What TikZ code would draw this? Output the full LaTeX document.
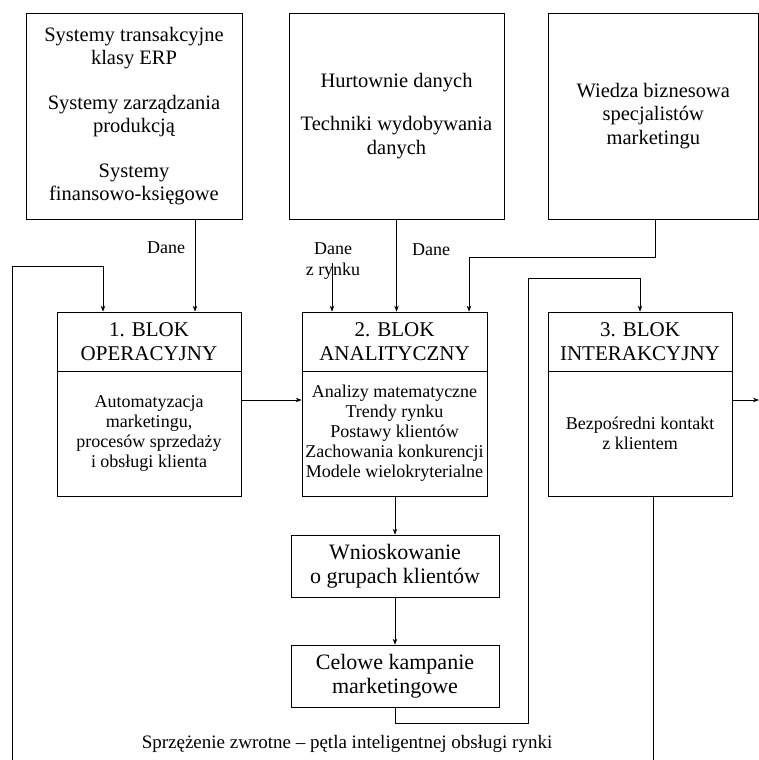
\documentclass[tikz,border=0pt]{standalone}
\usepackage{fontspec}
\setmainfont{Liberation Serif}
\usetikzlibrary{arrows.meta}
\begin{document}
\begin{tikzpicture}[x=1pt,y=-1pt,line width=0.7pt,
  box/.style={draw,inner sep=0pt,align=center},
  arr/.style={-{Stealth[length=6pt,width=4.5pt]}},
  topf/.style={font=\fontsize{20.5}{23.5}\selectfont},
  ttlf/.style={font=\fontsize{21}{23.5}\selectfont},
  bodyf/.style={font=\fontsize{18}{20}\selectfont},
  midf/.style={font=\fontsize{22}{23.5}\selectfont},
  lblf/.style={font=\fontsize{18}{21}\selectfont,align=center,inner sep=0pt}]
\useasboundingbox (0,0) rectangle (759,760);

% top boxes
\node[box,topf,minimum width=216pt,minimum height=206pt] (A) at (134,116)
  {Systemy transakcyjne\\klasy ERP\\[21pt]Systemy zarządzania\\produkcją\\[21pt]Systemy\\finansowo-księgowe};
\node[box,topf,minimum width=215pt,minimum height=206pt] (B) at (396.5,116)
  {Hurtownie danych\\[20pt]Techniki wydobywania\\danych};
\node[box,topf,minimum width=210.6pt,minimum height=206pt] (C) at (653.3,116)
  {Wiedza biznesowa\\specjalistów\\marketingu};

% blocks
\node[box,ttlf,minimum width=184pt,minimum height=59pt] (b1t) at (149,341.5) {1. BLOK\\OPERACYJNY};
\node[box,bodyf,minimum width=184pt,minimum height=125pt] (b1b) at (149,433.5)
  {Automatyzacja\\marketingu,\\procesów sprzedaży\\i obsługi klienta};
\node[box,ttlf,minimum width=185pt,minimum height=59pt] (b2t) at (394.5,341.5) {2. BLOK\\ANALITYCZNY};
\node[box,bodyf,minimum width=185pt,minimum height=125pt] (b2b) at (394.5,433.5)
  {Analizy matematyczne\\Trendy rynku\\Postawy klientów\\Zachowania konkurencji\\Modele wielokryterialne};
\node[box,ttlf,minimum width=184pt,minimum height=59pt] (b3t) at (640,341.5) {3. BLOK\\INTERAKCYJNY};
\node[box,bodyf,minimum width=184pt,minimum height=125pt] (b3b) at (640,433.5)
  {Bezpośredni kontakt\\z klientem};

% lower boxes
\node[box,midf,minimum width=208pt,minimum height=62pt] (w) at (395,566) {Wnioskowanie\\o grupach klientów};
\node[box,midf,minimum width=208pt,minimum height=62pt] (c) at (395,676) {Celowe kampanie\\marketingowe};

% labels
\node[lblf] (d1) at (166,248) {Dane};
\node[lblf] (d2) at (431,250) {Dane};
\node[lblf] (d3) at (333,261) {Dane\\z rynku};
\node[lblf,anchor=base] (cap) at (347,748) {\fontsize{19}{21}\selectfont Sprzężenie zwrotne – pętla inteligentnej obsługi rynki};

% coordinates
\coordinate (pA) at (195,219);
\coordinate (fb0) at (12,760);
\coordinate (fbk) at (103,266);
\coordinate (zr) at (332,263);
\coordinate (pC) at (655,219);
\coordinate (cC) at (469,257);
\coordinate (lp1) at (395,723);
\coordinate (lp2) at (528,278);
\coordinate (fb2) at (653,496);
\coordinate (fb3) at (653,760);
\coordinate (out3) at (759,400);

% connectors
\draw[arr] (pA) -- (pA |- b1t.north);
\draw[arr] (fb0) |- (fbk) -- (fbk |- b1t.north);
\draw[arr] (B.south) -- (B.south |- b2t.north);
\draw[arr] (zr) -- (zr |- b2t.north);
\draw[arr] (pC) |- (cC) -- (cC |- b2t.north);
\draw[arr] (b1b.east |- out3) -- (b2b.west |- out3);
\draw[arr] (b3b.east |- out3) -- (out3);
\draw[arr] (w.north |- b2b.south) -- (w.north);
\draw[arr] (w.south) -- (c.north);
\draw[arr] (c.south) |- (lp2 |- lp1) -- (lp2) -| (b3t.north);
\draw (fb2) -- (fb3);
\end{tikzpicture}
\end{document}
